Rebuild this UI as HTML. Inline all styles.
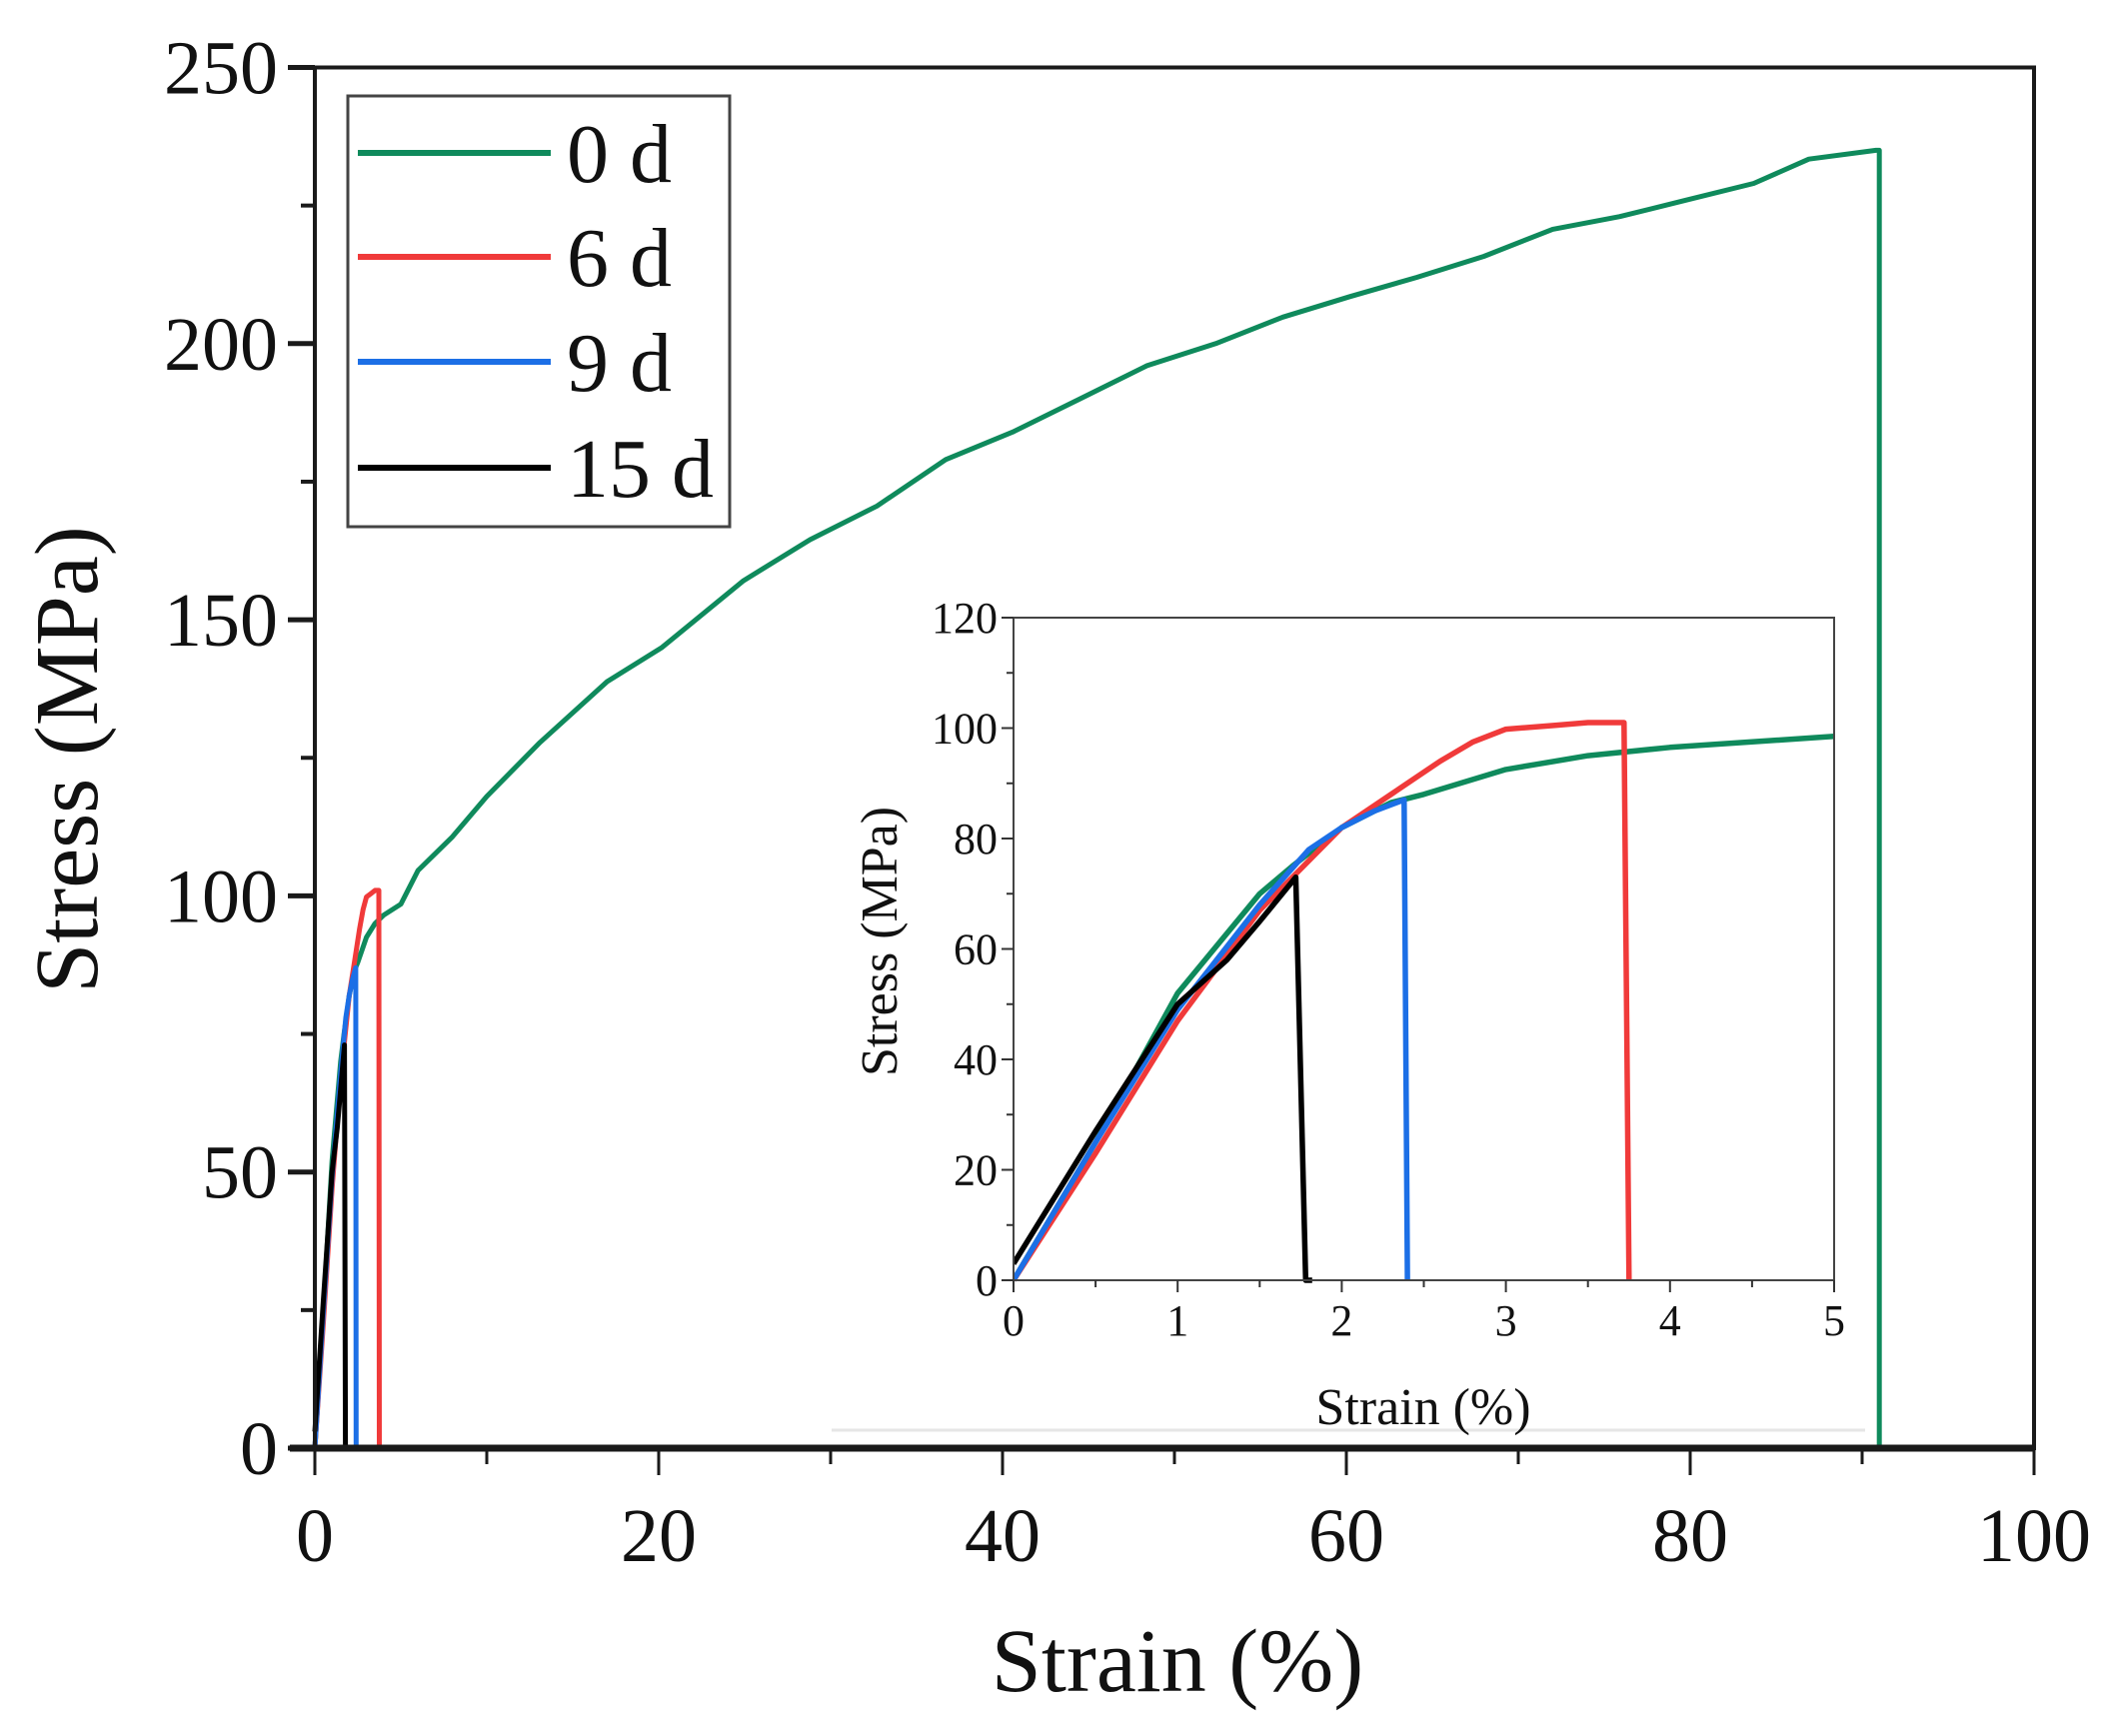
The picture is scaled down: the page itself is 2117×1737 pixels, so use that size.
<!DOCTYPE html>
<html><head><meta charset="utf-8">
<style>
html,body{margin:0;padding:0;background:#fff;}
svg{display:block;font-family:"Liberation Serif",serif;}
</style></head>
<body>
<svg id="chart" width="2117" height="1737" viewBox="0 0 2117 1737" xmlns="http://www.w3.org/2000/svg">
<g id="main"></g>
<g id="inset"></g>
<g id="legend"></g>
</svg>
<script>
// ---- data ----
const seriesNames = ["0 d","6 d","9 d","15 d"];
const seriesColors = ["#0f8a5c","#f03a3a","#1c6fe6","#000000"];
const green0Strain = [0,0.5,1,1.5,1.7,2,2.3,2.5,3,3.5,4,4.5,5,6,8,10,13.1,17,20.2,24.9,28.8,32.7,36.7,40.6,44.5,48.4,52.4,56.3,60.2,64.1,68,72,75.9,79.8,83.7,86.9,90.8,91,91];
const green0Stress = [0,25,52,70,75,82,86.5,88,92.5,95,96.5,97.5,98.5,104.6,110.7,118,127.8,138.8,145,157,164.5,170.6,179,184,190,196,200,204.8,208.5,212,215.8,220.7,223,226,229,233.4,235,235,0];
const red6Strain = [0,0.5,1,1.5,2,2.3,2.6,2.8,3,3.3,3.5,3.72,3.75];
const red6Stress = [0,23,47,67,82,88,94,97.5,99.8,100.5,101,101,0];
const blue9Strain = [0,0.5,1,1.5,1.8,2,2.2,2.38,2.4];
const blue9Stress = [0,25,49,68,78,82,85,87,0];
const black15Strain = [0,0.5,1,1.3,1.5,1.72,1.78,1.82];
const black15Stress = [3,27,50,58,65,73,0,0];
const mainXTicks = [0,20,40,60,80,100];
const mainYTicks = [0,50,100,150,200,250];
const insetXTicks = [0,1,2,3,4,5];
const insetYTicks = [0,20,40,60,80,100,120];

const allStrain = [green0Strain, red6Strain, blue9Strain, black15Strain];
const allStress = [green0Stress, red6Stress, blue9Stress, black15Stress];

const NS = "http://www.w3.org/2000/svg";
function mk(parent, tag, attrs, text){
  const e = document.createElementNS(NS, tag);
  for (const k in attrs) e.setAttribute(k, attrs[k]);
  if (text !== undefined) e.textContent = text;
  parent.appendChild(e);
  return e;
}

// ---- main axes ----
const M = {x0:315, x1:2035, y0:1449, y1:67.5, xmin:0, xmax:100, ymin:0, ymax:250};
const mx = v => M.x0 + (v - M.xmin) / (M.xmax - M.xmin) * (M.x1 - M.x0);
const my = v => M.y0 - (v - M.ymin) / (M.ymax - M.ymin) * (M.y0 - M.y1);
const main = document.getElementById('main');

for (let s = 0; s < 4; s++) {
  const pts = allStrain[s].map((x,i) => mx(x).toFixed(1) + "," + my(allStress[s][i]).toFixed(1)).join(" ");
  const pl = mk(main, 'polyline', {points:pts, fill:'none', stroke:seriesColors[s], 'stroke-width':5, 'stroke-linejoin':'round'});
  
  
}

const ib = mk(main, 'rect', {x:830, y:585, width:1040, height:847, fill:'#fff'});


mk(main, 'line', {x1:832, y1:1431, x2:1866, y2:1431, stroke:'#e6e6e6', 'stroke-width':3});

const frame = mk(main, 'rect', {x:M.x0, y:M.y1, width:M.x1-M.x0, height:M.y0-M.y1, fill:'none', stroke:'#1a1a1a', 'stroke-width':4});


mk(main, 'line', {x1:M.x0-25, y1:M.y0, x2:M.x1, y2:M.y0, stroke:'#1a1a1a', 'stroke-width':7});
mk(main, 'line', {x1:M.x0-25, y1:M.y1, x2:M.x0, y2:M.y1, stroke:'#1a1a1a', 'stroke-width':5});

for (let v = 0; v <= 100; v += 10) {
  const major = v % 20 === 0;
  mk(main, 'line', {x1:mx(v), y1:M.y0, x2:mx(v), y2:M.y0 + (major ? 27 : 16), stroke:'#1a1a1a', 'stroke-width':3});
}
mainXTicks.forEach(v => {
  const t = mk(main, 'text', {x:mx(v), y:1562, 'font-size':76, 'text-anchor':'middle', fill:'#111'}, String(v));
  
  
});
for (let v = 0; v <= 250; v += 25) {
  const major = v % 50 === 0;
  mk(main, 'line', {x1:M.x0, y1:my(v), x2:M.x0 - (major ? 27 : 14), y2:my(v), stroke:'#1a1a1a', 'stroke-width':major ? 5 : 4});
}
mainYTicks.forEach(v => {
  const t = mk(main, 'text', {x:278, y:my(v) + 26, 'font-size':76, 'text-anchor':'end', fill:'#111'}, String(v));
  
  
});
const xt = mk(main, 'text', {x:1178, y:1692, 'font-size':90, 'text-anchor':'middle', fill:'#111'}, 'Strain (%)');


const yt = mk(main, 'text', {x:0, y:0, 'font-size':90, 'text-anchor':'middle', fill:'#111', transform:'translate(97,760) rotate(-90)'}, 'Stress (MPa)');



// ---- inset ----
const I = {x0:1014, x1:1835, y0:1281, y1:618, xmin:0, xmax:5, ymin:0, ymax:120};
const ix = v => I.x0 + (v - I.xmin) / (I.xmax - I.xmin) * (I.x1 - I.x0);
const iy = v => I.y0 - (v - I.ymin) / (I.ymax - I.ymin) * (I.y0 - I.y1);
const inset = document.getElementById('inset');
const cp = mk(inset, 'clipPath', {id:'insetClip'});
mk(cp, 'rect', {x:I.x0, y:I.y1, width:I.x1-I.x0, height:I.y0-I.y1+4});
const ig = mk(inset, 'g', {'clip-path':'url(#insetClip)'});
for (let s = 0; s < 4; s++) {
  const pts = allStrain[s].map((x,i) => ix(x).toFixed(1) + "," + iy(allStress[s][i]).toFixed(1)).join(" ");
  const pl = mk(ig, 'polyline', {points:pts, fill:'none', stroke:seriesColors[s], 'stroke-width':5.5, 'stroke-linejoin':'round'});
  
  
}
const iframe = mk(inset, 'rect', {x:I.x0, y:I.y1, width:I.x1-I.x0, height:I.y0-I.y1, fill:'none', stroke:'#444', 'stroke-width':2});


for (let v = 0; v <= 5.001; v += 0.5) {
  const major = Math.abs(v - Math.round(v)) < 1e-6;
  mk(inset, 'line', {x1:ix(v), y1:I.y0, x2:ix(v), y2:I.y0 + (major ? 12 : 7), stroke:'#333', 'stroke-width':2});
}
insetXTicks.forEach(v => {
  const t = mk(inset, 'text', {x:ix(v), y:1336, 'font-size':44, 'text-anchor':'middle', fill:'#111'}, String(v));
  
  
});
for (let v = 0; v <= 120; v += 10) {
  const major = v % 20 === 0;
  mk(inset, 'line', {x1:I.x0, y1:iy(v), x2:I.x0 - (major ? 12 : 7), y2:iy(v), stroke:'#333', 'stroke-width':2});
}
insetYTicks.forEach(v => {
  const t = mk(inset, 'text', {x:998, y:iy(v) + 15, 'font-size':44, 'text-anchor':'end', fill:'#111'}, String(v));
  
  
});
const ixt = mk(inset, 'text', {x:1424, y:1425, 'font-size':52, 'text-anchor':'middle', fill:'#111'}, 'Strain (%)');


const iyt = mk(inset, 'text', {x:0, y:0, 'font-size':52, 'text-anchor':'middle', fill:'#111', transform:'translate(897,942) rotate(-90)'}, 'Stress (MPa)');



// ---- legend ----
const lg = document.getElementById('legend');
const lbox = mk(lg, 'rect', {x:348, y:96, width:382, height:431, fill:'#fff', stroke:'#444', 'stroke-width':3});


const legY = [153, 257, 362, 468];
for (let s = 0; s < 4; s++) {
  const ln = mk(lg, 'line', {x1:358, y1:legY[s], x2:551, y2:legY[s], stroke:seriesColors[s], 'stroke-width':6});
  
  
  const tx = mk(lg, 'text', {x:567, y:legY[s] + 29, 'font-size':84, fill:'#111'}, seriesNames[s]);
  
  
}
</script>
</body></html>
